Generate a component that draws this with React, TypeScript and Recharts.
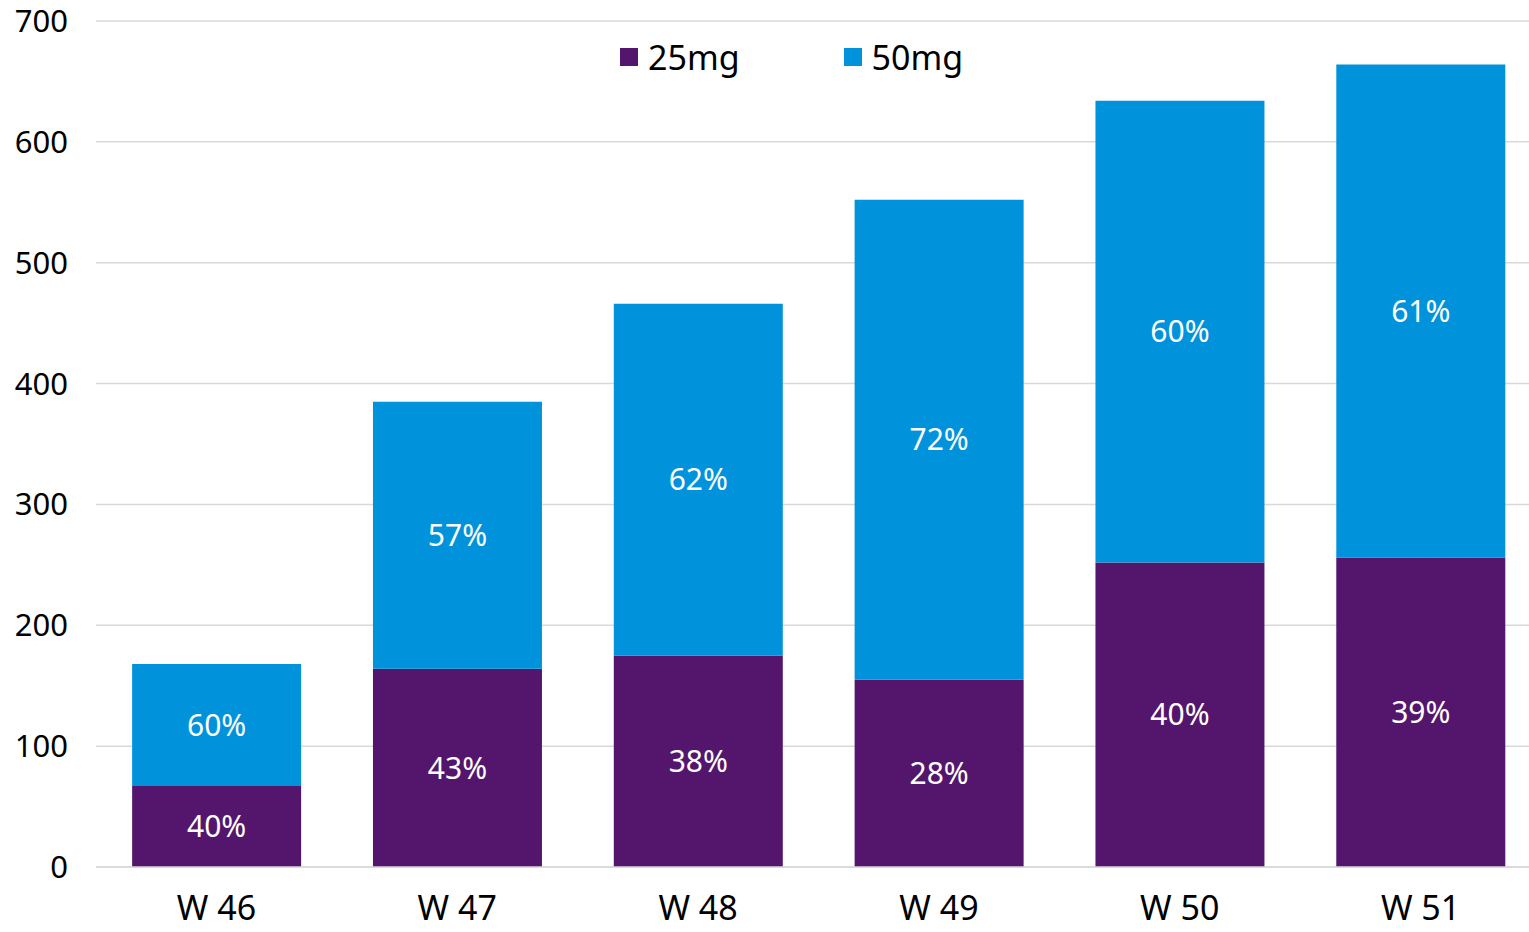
import { BarChart, Bar, XAxis, YAxis, CartesianGrid, Legend, LabelList } from 'recharts'

// Weekly volumes per dose strength
const weeks = ['W 46', 'W 47', 'W 48', 'W 49', 'W 50', 'W 51']
const dose25 = [67, 164, 175, 155, 252, 256]
const dose50 = [101, 221, 291, 397, 382, 408]
const yTicks = [0, 100, 200, 300, 400, 500, 600, 700]

const PURPLE = '#54166d'
const BLUE = '#0093dc'

// share of each week's total, shown inside the stacks
const pct = (part: number, i: number) => Math.round((part / (dose25[i] + dose50[i])) * 100)

const data = weeks.map((week, i) => ({
  week,
  d25: dose25[i],
  d50: dose50[i],
  p25: pct(dose25[i], i),
  p50: pct(dose50[i], i),
}))

const renderLegend = ({ payload }: any) => (
  <div style={{ display: 'flex', alignItems: 'center', gap: 104 }}>
    {(payload || []).map((item: any) => (
      <div key={item.value} style={{ display: 'flex', alignItems: 'center' }}>
        <span style={{ width: 18, height: 18, background: item.color, marginRight: 10, display: 'inline-block' }} />
        <span style={{ fontSize: 34, color: '#000', lineHeight: 1 }}>{item.value}</span>
      </div>
    ))}
  </div>
)

export default function App() {
  return (
    <div
      style={{
        position: 'absolute',
        left: 0,
        top: 0,
        width: 1529,
        height: 932,
        overflow: 'hidden',
        background: '#fff',
        fontFamily: '"Noto Sans", sans-serif',
      }}
    >
      <BarChart
        width={1541}
        height={932}
        data={data}
        margin={{ top: 21, right: 0, bottom: 0, left: 0 }}
        barCategoryGap="15%"
      >
        <CartesianGrid vertical={false} stroke="#d9d9d9" strokeWidth={1.5} />
        <XAxis
          dataKey="week"
          height={65}
          tickLine={false}
          tickSize={0}
          tickMargin={29}
          axisLine={{ stroke: '#d9d9d9', strokeWidth: 1.5 }}
          tick={{ fill: '#000', fontSize: 34 }}
        />
        <YAxis
          width={96}
          domain={[0, 700]}
          ticks={yTicks}
          tickLine={false}
          tickSize={0}
          tickMargin={28}
          axisLine={false}
          tick={{ fill: '#000', fontSize: 31 }}
        />
        <Legend
          layout="horizontal"
          verticalAlign="middle"
          align="center"
          content={renderLegend}
          wrapperStyle={{ top: 40, left: 620, width: 'auto', height: 'auto' }}
        />
        <Bar dataKey="d25" name="25mg" stackId="dose" fill={PURPLE} isAnimationActive={false}>
          <LabelList dataKey="p25" position="center" fill="#fff" fontSize={30} formatter={(v: any) => `${v}%`} />
        </Bar>
        <Bar dataKey="d50" name="50mg" stackId="dose" fill={BLUE} isAnimationActive={false}>
          <LabelList dataKey="p50" position="center" fill="#fff" fontSize={30} formatter={(v: any) => `${v}%`} />
        </Bar>
      </BarChart>
    </div>
  )
}
